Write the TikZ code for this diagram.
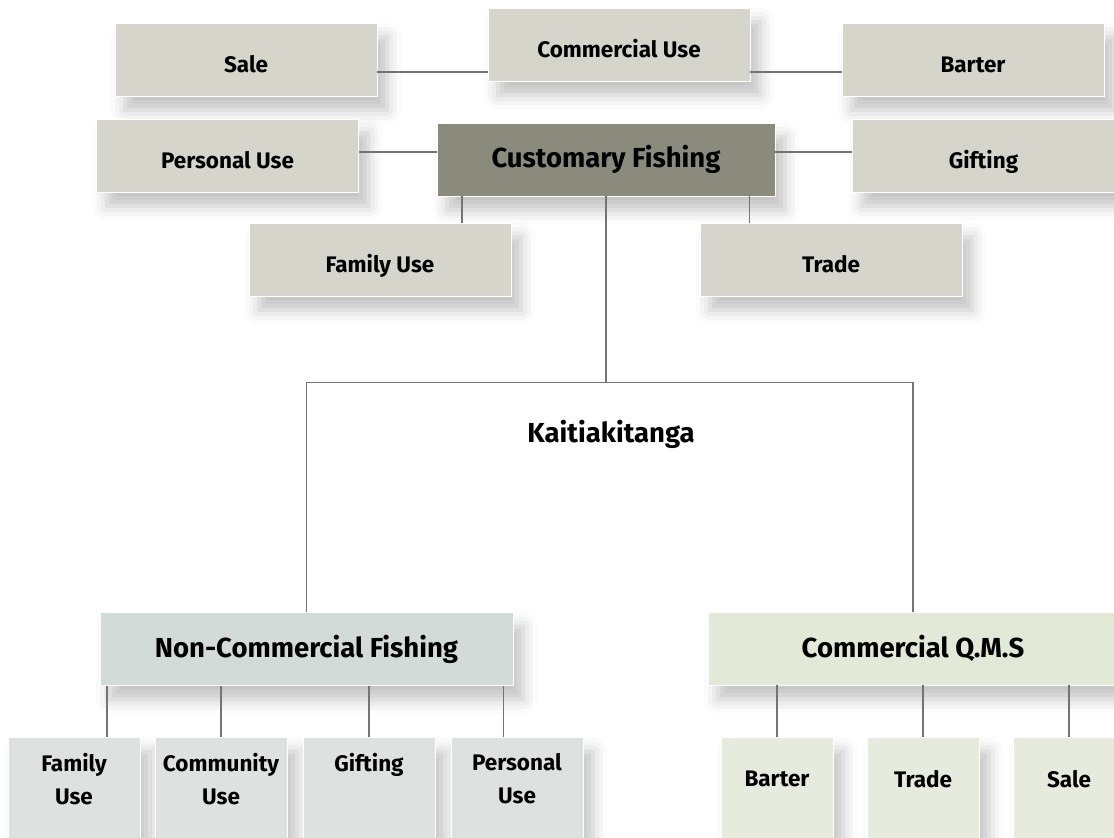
\documentclass[tikz,border=0pt]{standalone}
\usepackage{fontspec}
\setmainfont{Fira Sans}
\usetikzlibrary{positioning,shadows.blur}

\definecolor{stone}{HTML}{D5D5CC}
\definecolor{moss}{HTML}{8B8B7D}
\definecolor{mist}{HTML}{D2DBD8}
\definecolor{mistlt}{HTML}{DDE2E0}
\definecolor{sage}{HTML}{E3E9D7}
\definecolor{sagelt}{HTML}{E6EBDD}
\definecolor{wire}{HTML}{747474}

\tikzset{
    box/.style={rectangle, draw=white, line width=0.8pt, inner sep=0pt,
        minimum width=262pt, minimum height=73pt,
        font=\fontsize{22.5}{26}\selectfont\bfseries,
        blur shadow={shadow xshift=10pt, shadow yshift=-14pt,
            shadow blur radius=14pt, shadow opacity=24}},
    usebox/.style={box, fill=stone, text height=25pt, text depth=0pt},
    headbox/.style={box, fill=moss, minimum width=338pt,
        font=\fontsize{27.5}{31}\selectfont\bfseries},
    groupbox/.style={box, minimum height=73pt,
        font=\fontsize{27.5}{31}\selectfont\bfseries},
    lowbox/.style={box, anchor=north, minimum height=125pt},
    lowtext/.style={align=center, inner sep=0pt,
        font=\fontsize{22.5}{33}\selectfont\bfseries},
    link/.style={draw=wire, line width=1.8pt}
}

\begin{document}
\begin{tikzpicture}[x=1pt,y=-1pt]
    \useasboundingbox (0,0) rectangle (1114,838);
    \clip (0,0) rectangle (1114,838);

    % customary fishing and what it is used for
    \node[usebox] (cu)    at (619,44.5)  {Commercial Use};
    \node[usebox] (sale)  at (246,59.5)  {Sale};
    \node[usebox] (bart)  at (973,59.5)  {Barter};
    \node[usebox] (pers)  at (227.5,155.5) {Personal Use};
    \node[usebox] (gift)  at (983.5,155.5) {Gifting};
    \node[headbox] (cf)   at (606,159.5) {Customary Fishing};
    \node[usebox] (fam)   at (380,259.5) {Family Use};
    \node[usebox] (trade) at (831,259.5) {Trade};

    \coordinate (s1) at ([yshift=-12.5pt]sale.east);
    \coordinate (s2) at ([yshift=-12.5pt]bart.west);
    \draw[link] (s1) -- (s1 -| cu.west);
    \draw[link] (s2) -- (s2 -| cu.east);
    \coordinate (p1) at ([yshift=3.5pt]pers.east);
    \coordinate (p2) at ([yshift=3.5pt]gift.west);
    \draw[link] (p1) -- (p1 -| cf.west);
    \draw[link] (p2) -- (p2 -| cf.east);
    \coordinate (c1) at ([xshift=25pt]cf.south west);
    \coordinate (c2) at ([xshift=-26pt]cf.south east);
    \draw[link] (c1) -- (c1 |- fam.north);
    \draw[link] (c2) -- (c2 |- trade.north);

    % kaitiakitanga
    \node[font=\fontsize{27.5}{31}\selectfont\bfseries] (kt) at (611,434) {Kaitiakitanga};
    \node[groupbox, fill=mist, minimum width=413pt] (ncf) at (306.5,649) {Non-Commercial Fishing};
    \node[groupbox, fill=sage, minimum width=410pt] (qms) at (913,648.5) {Commercial Q.M.S};

    \coordinate (split) at ([yshift=-186pt]cf.south);
    \draw[link, line width=1.2pt] (cf.south) -- (split);
    \draw[link, line width=1.2pt] (ncf.north) |- (split) -| (qms.north);

    % non-commercial uses
    \foreach \x/\name/\txt in {74/nf1/{Family\\Use}, 221/nf2/{Community\\Use},
                               369/nf3/{Gifting\\\mbox{}}, 517/nf4/{Personal\\Use}} {
        \node[lowbox, fill=mistlt, minimum width=132pt] (\name) at (\x,737) {};
        \node[lowtext] (\name t) at (\x,779) {\txt};
    }
    \coordinate (n1) at ([xshift=7pt]ncf.south west);
    \coordinate (n4) at ([xshift=-10pt]ncf.south east);
    \draw[link] (n1) -- (n1 |- nf1.north);
    \draw[link] (n4) -- (n4 |- nf4.north);
    \foreach \n in {nf2,nf3}
        \draw[link] (ncf.south -| \n.north) -- (\n.north);

    % commercial uses
    \foreach \x/\name/\txt in {777/cm1/Barter, 923/cm2/Trade, 1069/cm3/Sale} {
        \node[lowbox, fill=sagelt, minimum width=112pt] (\name) at (\x,737) {};
        \node[lowtext] (\name t) at (\x,779) {\txt};
        \draw[link] (qms.south -| \name.north) -- (\name.north);
    }
\end{tikzpicture}
\end{document}
